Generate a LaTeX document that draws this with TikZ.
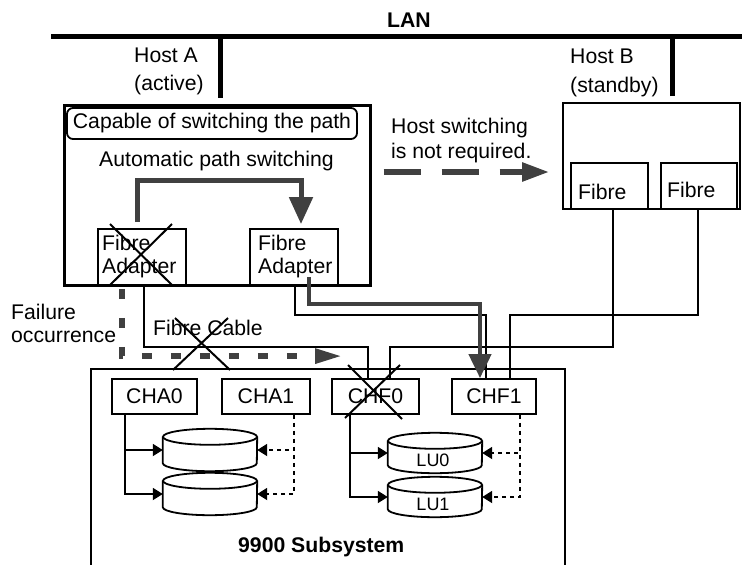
\documentclass[tikz,border=0pt]{standalone}
\usepackage{fontspec}
\setmainfont{Liberation Sans}
\usetikzlibrary{arrows.meta,calc}
\definecolor{dg}{RGB}{64,64,64}
\newcommand{\drawcyl}[1]{%
  \draw[line width=1.8pt, fill=white] (#1.north west) -- (#1.south west)
    arc[start angle=180, end angle=360, x radius=47pt, y radius=8pt] -- (#1.north east);
  \draw[line width=1.8pt] (#1.north) ellipse [x radius=47pt, y radius=8pt];}
\begin{document}
\begin{tikzpicture}[x=1pt,y=-1pt,
  font=\fontsize{21.2}{24}\selectfont,
  boxs/.style={draw, line width=1.8pt, inner sep=0pt},
  txt/.style={anchor=base west, inner sep=0pt},
  cable/.style={line width=2.4pt},
  thin/.style={line width=1.8pt},
  gthick/.style={draw=dg, line width=5pt},
  xmark/.style={line width=2pt},
  dotc/.style={line width=1.8pt, dash pattern=on 4pt off 4pt},
  tipk/.style={-{Triangle[length=10pt,width=12pt]}},
  cylb/.style={inner sep=0pt, minimum width=94pt, minimum height=#1},
  lanw/.style={line width=5pt},
]
\useasboundingbox (0,0) rectangle (742,565);

% LAN
\coordinate (lanL) at (51,36);
\coordinate (lanR) at (742,36);
\draw[lanw] (lanL) -- (lanR);
\node[anchor=base, inner sep=0pt, font=\fontsize{21.2}{24}\selectfont\bfseries] (lan) at (409,27) {LAN};

% Host A
\node[boxs, line width=3pt, minimum width=306pt, minimum height=180pt] (hostA) at (217,195) {};
\node[boxs, rounded corners=6pt, minimum width=290pt, minimum height=31pt] (cap) at (212,123.5) {Capable of switching the path};
\node[txt] (auto) at (99,166) {Automatic path switching};
\node[txt] (hal1) at (134,62) {Host A};
\node[txt] (hal2) at (134,90) {(active)};
\coordinate (hAd) at ($(hostA.north)+(3,-6)$);
\draw[lanw] (hAd) -- (hAd |- lanL);

\node[boxs, minimum width=88pt, minimum height=56pt] (la) at (142,257) {};
\node[txt] (la1) at (102,250) {Fibre};
\node[txt] (la2) at (102,273) {Adapter};
\node[boxs, minimum width=88pt, minimum height=56pt] (ra) at (294,257) {};
\node[txt] (ra1) at (258,250) {Fibre};
\node[txt] (ra2) at (258,273) {Adapter};

\draw[gthick, -{Triangle[length=27pt,width=23pt]}] ($(la.north)+(-5,-6)$) |- ($(ra.north)+(7,-48)$) -- ($(ra.north)+(7,-4)$);

% Host B
\node[boxs, minimum width=177pt, minimum height=106pt] (hostB) at (651.5,156) {};
\node[txt] (hbl1) at (570,63) {Host B};
\node[txt] (hbl2) at (570,92) {(standby)};
\coordinate (hBd) at ($(hostB.north)+(20.5,-6)$);
\draw[lanw] (hBd) -- (hBd |- lanL);
\node[boxs, minimum width=77pt, minimum height=46pt] (hbf1) at (609.5,186) {};
\node[txt] (hbf1t) at (578,199) {Fibre};
\node[boxs, minimum width=76pt, minimum height=46pt] (hbf2) at (699,186) {};
\node[txt] (hbf2t) at (667,197) {Fibre};

% host switching
\node[txt] (hs1) at (391,133) {Host switching};
\node[txt] (hs2) at (391,158) {is not required.};
\draw[dg, line width=5.5pt, dash pattern=on 37pt off 21pt, -{Triangle[length=27pt,width=18pt]}] ($(hostA.east)+(12,-23)$) -- ($(hostB.west)+(-13,16)$);

% Subsystem
\draw[line width=1.5pt] (91,566) |- (565,369) -- (565,566);
\node[txt, font=\fontsize{21.2}{24}\selectfont\bfseries] (subt) at (238,552) {9900 Subsystem};

\node[boxs, minimum width=85pt, minimum height=35pt] (cha0) at (154.5,396.5) {CHA0};
\node[boxs, minimum width=88pt, minimum height=35pt] (cha1) at (266,396.5) {CHA1};
\node[boxs, minimum width=87pt, minimum height=35pt] (chf0) at (375.5,396.5) {CHF0};
\node[boxs, minimum width=84pt, minimum height=35pt] (chf1) at (494,396.5) {CHF1};

\node[cylb=26pt] (d1) at (210,450) {};
\node[cylb=26pt] (d2) at (210,494) {};
\node[cylb=24pt] (lu0) at (435,453) {};
\node[cylb=24pt] (lu1) at (435,497) {};
\drawcyl{d1}
\drawcyl{d2}
\drawcyl{lu0}
\drawcyl{lu1}
\node[anchor=base, inner sep=0pt, font=\fontsize{18}{20}\selectfont] (lu0t) at (433,466) {LU0};
\node[anchor=base, inner sep=0pt, font=\fontsize{18}{20}\selectfont] (lu1t) at (433,510) {LU1};

\draw[thin, tipk] ($(cha0.south west)+(14,0)$) |- (d1.west);
\draw[thin, tipk] ($(cha0.south west)+(14,0)$) |- (d2.west);
\draw[dotc, tipk] ($(cha1.south east)+(-17,0)$) |- (d1.east);
\draw[dotc, tipk] ($(cha1.south east)+(-17,0)$) |- (d2.east);
\draw[thin, tipk] ($(chf0.south west)+(19,0)$) |- (lu0.west);
\draw[thin, tipk] ($(chf0.south west)+(19,0)$) |- (lu1.west);
\draw[dotc, tipk] ($(chf1.south east)+(-17,0)$) |- (lu0.east);
\draw[dotc, tipk] ($(chf1.south east)+(-17,0)$) |- (lu1.east);

% cables
\draw[cable] ($(la.south)+(2,0)$) |- ($(chf0.north)+(-7.5,-31)$) -- ($(chf0.north)+(-7.5,0)$);
\draw[cable] ($(ra.south)+(1,0)$) |- ($(chf1.north)+(-8,-63)$) -- ($(chf1.north)+(-8,0)$);
\draw[cable] ($(hbf1.south)+(3.5,0)$) |- ($(chf0.north)+(14.5,-31)$) -- ($(chf0.north)+(14.5,0)$);
\draw[cable] ($(hbf2.south)+(-1,0)$) |- ($(chf1.north)+(16,-63)$) -- ($(chf1.north)+(16,0)$);
\draw[dg, line width=4.5pt, -{Triangle[length=24pt,width=22pt]}] ($(ra.center)+(15,20)$) |- ($(chf1.north)+(-14,-74)$) -- ($(chf1.north)+(-14,0)$);
\node[txt] (fc) at (153,335) {Fibre Cable};

% failure
\node[txt] (f1) at (11,319) {Failure};
\node[txt] (f2) at (11,342) {occurrence};
\draw[dg, line width=5.5pt, dash pattern=on 10pt off 19pt, -{Triangle[length=27pt,width=14pt]}] ($(la.south west)+(25,3)$) |- ($(chf0.north west)+(11,-22)$);

% crosses
\draw[xmark] (110,224) -- (172,285) (172,224) -- (110,285);
\draw[xmark] (175,318) -- (230,370) (228,318) -- (173,370);
\draw[xmark] (348,365) -- (402,419) (400,365) -- (345,418);
\end{tikzpicture}
\end{document}
